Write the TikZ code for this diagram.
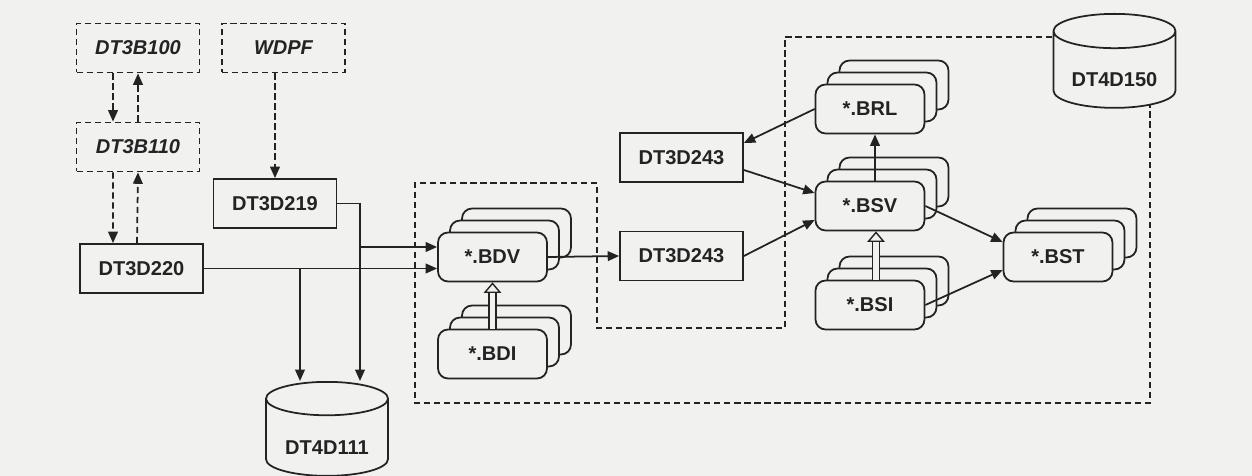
\documentclass[tikz,border=0pt]{standalone}
\usepackage{fontspec}
\setmainfont{Liberation Sans}
\usetikzlibrary{arrows.meta,shapes.geometric,shadows}
\definecolor{paper}{RGB}{241,241,239}
\definecolor{ink}{RGB}{35,35,35}
\tikzset{
  box/.style={draw=ink,line width=1pt,fill=paper,text=ink,minimum width=2.46cm,minimum height=0.98cm,inner sep=0pt,font=\fontsize{11.4}{13}\selectfont\bfseries},
  dbox/.style={box,dash pattern=on 3.5pt off 2.2pt,font=\fontsize{11.4}{13}\selectfont\bfseries\itshape},
  file/.style={box,rounded corners=0.2cm,minimum width=2.18cm,double copy shadow={shadow xshift=0.24cm,shadow yshift=0.24cm}},
  db/.style={box,cylinder,shape border rotate=90,aspect=0.4,minimum width=2.44cm,minimum height=1.88cm,text height=19.6pt,anchor=north},
  arr/.style={ink,line width=1pt,-{Triangle[length=6.5pt,width=5.5pt]}},
  darr/.style={arr,dash pattern=on 3.5pt off 2.2pt},
  hol/.style={ink,line width=0.8pt,double=paper,double distance=3pt,-{Triangle[open,length=6pt,width=10pt]}},
  grp/.style={draw=ink,line width=0.9pt,dash pattern=on 3.5pt off 2.2pt}
}

\begin{document}
\begin{tikzpicture}[x=0.02cm,y=-0.02cm]
\useasboundingbox[fill=paper] (0,0) rectangle (1252,476);
\draw[grp] (1052,37) -- (785,37) -- (785,328) -- (597,328) -- (597,183) -- (415,183) -- (415,403) -- (1150,403) -- (1150,105);
% sources
\node[dbox] (dt3b100) at (138,48) {DT3B100};
\node[dbox] (wdpf) at (283.5,48) {WDPF};
\node[dbox] (dt3b110) at (138,147) {DT3B110};
\node[box] (dt3d219) at (275,203.5) {DT3D219};
\node[box] (dt3d220) at (141.5,268.5) {DT3D220};
\node[db] (dt4d111) at (327,381) {DT4D111};
% files
\node[file] (bdv) at (492.5,257) {*.BDV};
\node[file] (bdi) at (492.5,354) {*.BDI};
\node[box] (dt3d243a) at (681.5,157.5) {DT3D243};
\node[box] (dt3d243b) at (681.5,256) {DT3D243};
\node[file] (brl) at (870,109) {*.BRL};
\node[file] (bsv) at (870,206) {*.BSV};
\node[file] (bsi) at (870,305) {*.BSI};
\node[file] (bst) at (1058,257) {*.BST};
\node[db] (dt4d150) at (1114.5,13) {DT4D150};
% connectors
\draw[darr] ([xshift=-0.5cm]dt3b100.south) -- ([xshift=-0.5cm]dt3b110.north);
\draw[darr] (dt3b110.north) -- (dt3b100.south);
\draw[darr] ([xshift=-0.5cm]dt3b110.south) -- ([xshift=-0.57cm]dt3d220.north);
\draw[darr] ([xshift=-0.09cm]dt3d220.north) -- (dt3b110.south);
\draw[darr] (wdpf.south -| dt3d219.north) -- (dt3d219.north);
\coordinate (drop1) at ([xshift=-0.54cm]dt4d111.north);
\coordinate (drop2) at ([xshift=0.66cm]dt4d111.north);
\coordinate (in1) at ([yshift=0.2cm]bdv.west);
\draw[arr] (dt3d219.east) -| (drop2);
\draw[arr] (drop2 |- in1) -- (in1);
\draw[arr] (dt3d220.east) -- (dt3d220.east -| bdv.west);
\draw[arr] (drop1 |- dt3d220.east) -- (drop1);
\draw[hol] (bdi.north) -- (bdv.south);
\draw[arr] (bdv.east) -- (dt3d243b.west);
\draw[arr] (brl.west) -- ([yshift=0.29cm]dt3d243a.east);
\draw[arr] ([yshift=-0.25cm]dt3d243a.east) -- ([yshift=0.26cm]bsv.west);
\draw[arr] (dt3d243b.east) -- ([yshift=-0.28cm]bsv.west);
\draw[arr] ([xshift=0.1cm]bsv.north) -- ([xshift=0.1cm]brl.south);
\draw[hol] ([xshift=0.12cm]bsi.north) -- ([xshift=0.12cm]bsv.south);
\draw[arr] (bsv.east) -- ([yshift=0.3cm]bst.west);
\draw[arr] (bsi.east) -- ([yshift=-0.26cm]bst.west);
\end{tikzpicture}
\end{document}
